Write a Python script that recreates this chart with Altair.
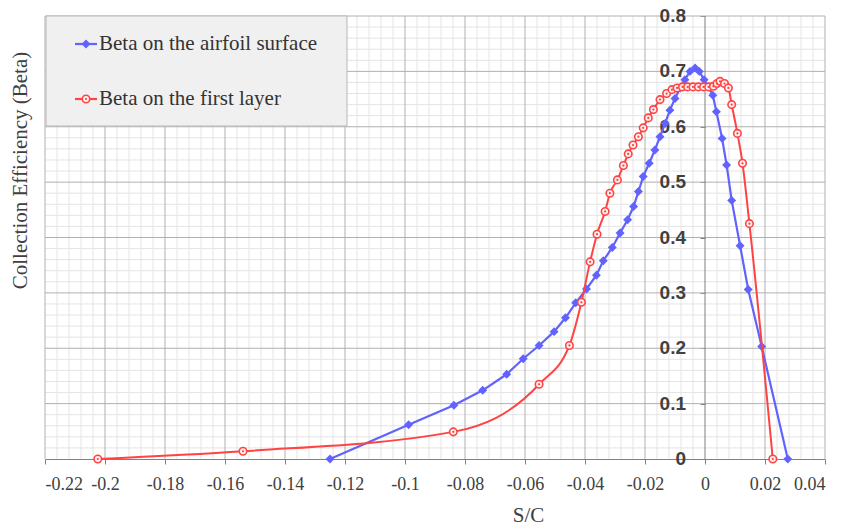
import altair as alt
import numpy as np
import pandas as pd

SERIES = ["Beta on the airfoil surface", "Beta on the first layer"]

BLUE_X = [-0.1250, -0.0988, -0.0837, -0.0741, -0.0661, -0.0606, -0.0553, -0.0503, -0.0465,
          -0.0431, -0.0395, -0.0362, -0.0339, -0.0309, -0.0283, -0.0258, -0.0238, -0.0222,
          -0.0206, -0.0186, -0.0167, -0.0150, -0.0133, -0.0117, -0.0100, -0.0083, -0.0067,
          -0.0050, -0.0033, -0.0019, -0.0003, 0.0011, 0.0026, 0.0038, 0.0057, 0.0072,
          0.0089, 0.0117, 0.0144, 0.0189, 0.0276]
BLUE_Y = [0.000, 0.062, 0.097, 0.124, 0.153, 0.181, 0.205, 0.230, 0.255,
          0.282, 0.307, 0.332, 0.358, 0.382, 0.408, 0.432, 0.456, 0.483,
          0.510, 0.534, 0.558, 0.582, 0.606, 0.630, 0.651, 0.670, 0.685,
          0.700, 0.706, 0.700, 0.685, 0.672, 0.657, 0.627, 0.579, 0.531,
          0.467, 0.385, 0.306, 0.203, 0.000]

RED_X = [-0.2024, -0.1540, -0.0839, -0.0553, -0.0452, -0.0412, -0.0383, -0.0360, -0.0333,
         -0.0317, -0.0292, -0.0272, -0.0256, -0.0240, -0.0222, -0.0206, -0.0189, -0.0172,
         -0.0150, -0.0128, -0.0110, -0.0093, -0.0075, -0.0058, -0.0040, -0.0022, -0.0005,
         0.0012, 0.0028, 0.0040, 0.0050, 0.0065, 0.0078, 0.0089, 0.0108, 0.0125,
         0.0148, 0.0226]
RED_Y = [0.000, 0.014, 0.049, 0.135, 0.205, 0.283, 0.356, 0.406, 0.447,
         0.480, 0.504, 0.530, 0.551, 0.567, 0.582, 0.598, 0.616, 0.631,
         0.649, 0.660, 0.667, 0.670, 0.672, 0.672, 0.672, 0.672, 0.672,
         0.672, 0.673, 0.678, 0.682, 0.678, 0.670, 0.640, 0.588, 0.534,
         0.425, 0.000]

X_TICKS = [-0.22, -0.2, -0.18, -0.16, -0.14, -0.12, -0.1, -0.08, -0.06, -0.04, -0.02, 0, 0.02, 0.04]
Y_TICKS = [0, 0.1, 0.2, 0.3, 0.4, 0.5, 0.6, 0.7, 0.8]
Y_LABELS = ["0", "0.1", "0.2", "0.3", "0.4", "0.5", "0.6", "0.7", "0.8"]
X_TITLE = "S/C"
Y_TITLE = "Collection Efficiency (Beta)"

BLUE = "#6262ff"
RED = "#ff4343"
SERIF = "Liberation Serif"
SANS = "Liberation Sans"
TXT = "#404040"

W, H = 780, 443

xs = alt.Scale(domain=[-0.22, 0.04], nice=False, zero=False)
ys = alt.Scale(domain=[0, 0.8], nice=False, zero=False)

AX = alt.Axis(values=X_TICKS, grid=False, labelExpr="datum.value + ''",
              labelFont=SERIF, labelFontSize=18, labelColor=TXT, labelPadding=11,
              labelOverlap=False,
              tickSize=5, tickColor="#808080", domainColor="#808080",
              title=X_TITLE, titleFont=SERIF, titleFontSize=21, titleFontWeight="normal",
              titleColor=TXT, titleX=483, titleY=56, titleBaseline="middle")
AY = alt.Axis(values=Y_TICKS, grid=False, labels=False, domain=False, offset=-660,
              tickSize=5, tickColor="#808080",
              title=Y_TITLE, titleFont=SERIF, titleFontSize=21, titleFontWeight="normal",
              titleColor=TXT, titleX=-685, titleY=154, titleBaseline="middle", titleAngle=270)

minor_x = [v for v in np.round(np.arange(-0.22, 0.0401, 0.004), 4)
           if not np.any(np.isclose(v, X_TICKS))]
minor_y = [v for v in np.round(np.arange(0, 0.8001, 0.02), 3)
           if not np.any(np.isclose(v, Y_TICKS))]

gx_minor = alt.Chart(pd.DataFrame({"x": minor_x})).mark_rule(color="#e4e4e4", strokeWidth=1).encode(
    x=alt.X("x:Q", scale=xs, axis=AX))
gy_minor = alt.Chart(pd.DataFrame({"y": minor_y})).mark_rule(color="#e4e4e4", strokeWidth=1).encode(
    y=alt.Y("y:Q", scale=ys, axis=AY))
gx_major = alt.Chart(pd.DataFrame({"x": [v for v in X_TICKS if v != 0]})).mark_rule(
    color="#b0b0b0", strokeWidth=1).encode(x=alt.X("x:Q", scale=xs, axis=AX))
gy_major = alt.Chart(pd.DataFrame({"y": Y_TICKS[1:]})).mark_rule(
    color="#b0b0b0", strokeWidth=1).encode(y=alt.Y("y:Q", scale=ys, axis=AY))
y_axis_line = alt.Chart(pd.DataFrame({"x": [0]})).mark_rule(
    color="#808080", strokeWidth=1).encode(x=alt.X("x:Q", scale=xs, axis=AX))

ylab = alt.Chart(pd.DataFrame({"x": [0] * len(Y_TICKS), "y": Y_TICKS, "t": Y_LABELS})).mark_text(
    align="right", baseline="middle", dx=-19, font=SANS, fontSize=19, fontWeight="bold", color=TXT
).encode(x=alt.X("x:Q", scale=xs, axis=AX), y=alt.Y("y:Q", scale=ys, axis=AY), text="t:N")

blue_df = pd.DataFrame({"x": BLUE_X, "y": BLUE_Y})
red_df = pd.DataFrame({"x": RED_X, "y": RED_Y})

def enc(ch):
    return ch.encode(x=alt.X("x:Q", scale=xs, axis=AX), y=alt.Y("y:Q", scale=ys, axis=AY))

blue_line = enc(alt.Chart(blue_df).mark_line(color=BLUE, strokeWidth=2.2))
blue_pts = enc(alt.Chart(blue_df).mark_point(shape="diamond", filled=True, size=80, color=BLUE, opacity=1))
red_line = enc(alt.Chart(red_df).mark_line(color=RED, strokeWidth=2, interpolate="monotone"))
red_pts = enc(alt.Chart(red_df).mark_point(shape="circle", filled=True, size=56, fill="#fff0f0",
                                            stroke=RED, strokeWidth=1.6, opacity=1))
red_dot = enc(alt.Chart(red_df).mark_point(shape="circle", filled=True, size=5, color=RED, opacity=1))

# legend box
leg_df = pd.DataFrame({"s": [SERIES[0]]})
leg_box = alt.Chart(leg_df).mark_rect(fill="#f0f0f0", stroke="#b8b8b8", strokeWidth=1).encode(
    x=alt.value(1), x2=alt.value(302), y=alt.value(0), y2=alt.value(110))
rows = [(SERIES[0], 28, BLUE), (SERIES[1], 83, RED)]
leg_layers = [leg_box]
for name, yy, col in rows:
    d = pd.DataFrame({"s": [name]})
    leg_layers.append(alt.Chart(d).mark_rule(color=col, strokeWidth=2.2).encode(
        x=alt.value(30), x2=alt.value(52), y=alt.value(yy)))
    if col == BLUE:
        leg_layers.append(alt.Chart(d).mark_point(shape="diamond", filled=True, size=80, color=BLUE,
                                                  opacity=1).encode(x=alt.value(41), y=alt.value(yy)))
    else:
        leg_layers.append(alt.Chart(d).mark_point(shape="circle", filled=True, size=56, fill="#fff0f0",
                                                  stroke=RED, strokeWidth=1.6, opacity=1).encode(
            x=alt.value(41), y=alt.value(yy)))
        leg_layers.append(alt.Chart(d).mark_point(shape="circle", filled=True, size=5, color=RED,
                                                  opacity=1).encode(x=alt.value(41), y=alt.value(yy)))
    leg_layers.append(alt.Chart(d).mark_text(align="left", baseline="middle", font=SERIF, fontSize=21,
                                             color="#333333").encode(
        x=alt.value(54), y=alt.value(yy), text="s:N"))

chart = alt.layer(
    gx_minor, gy_minor, gx_major, gy_major, y_axis_line, ylab,
    blue_line, blue_pts, red_line, red_pts, red_dot, *leg_layers
).properties(
    width=W, height=H,
    autosize=alt.AutoSizeParams(type="none"),
    padding={"left": 45, "top": 16, "right": 21, "bottom": 68},
    background="white",
).configure_view(stroke=None)

chart.save("out.html", embed_options={"renderer": "svg", "actions": False})
